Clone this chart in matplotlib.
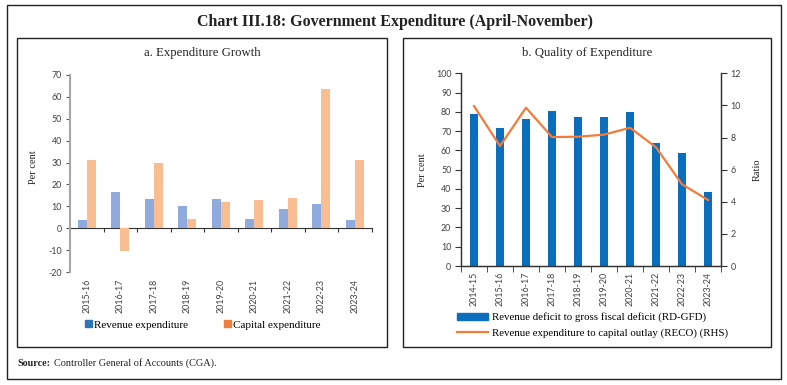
import matplotlib
matplotlib.use("Agg")
import matplotlib.pyplot as plt
import numpy as np
from matplotlib.patches import Rectangle, Patch
from matplotlib.lines import Line2D

plt.rcParams['axes.unicode_minus'] = False

# panel a: expenditure growth (per cent)
years_a = ['2015-16', '2016-17', '2017-18', '2018-19', '2019-20',
           '2020-21', '2021-22', '2022-23', '2023-24']
revenue_exp = [3.7, 16.4, 13.4, 10.2, 13.4, 4.2, 8.7, 11.0, 3.8]
capital_exp = [31.2, -10.3, 29.7, 4.2, 12.0, 12.9, 13.8, 63.6, 31.2]

# panel b: quality of expenditure
years_b = ['2014-15', '2015-16', '2016-17', '2017-18', '2018-19',
           '2019-20', '2020-21', '2021-22', '2022-23', '2023-24']
rd_gfd = [78.7, 71.8, 76.5, 80.4, 77.5, 77.5, 79.7, 64.0, 58.8, 38.4]
reco = [9.96, 7.47, 9.86, 8.03, 8.05, 8.18, 8.61, 7.39, 5.09, 4.11]

serif = 'Liberation Serif'
sans = 'Lato'
tick_col = '#404040'
tsize = 6.4
W, H = 787, 385


def fx(px):
    return px / W


def fy(py):
    return 1 - py / H


fig = plt.figure(figsize=(7.87, 3.85), dpi=100)

# frames
fig.add_artist(Rectangle((fx(7), fy(379)), fx(774), 374 / H, transform=fig.transFigure,
                         fill=False, lw=1.0, ec='#222222'))
fig.add_artist(Rectangle((fx(17), fy(347)), fx(370), 309 / H, transform=fig.transFigure,
                         fill=False, lw=1.0, ec='#222222'))
fig.add_artist(Rectangle((fx(403), fy(347)), fx(368), 309 / H, transform=fig.transFigure,
                         fill=False, lw=1.0, ec='#222222'))

fig.text(fx(395), fy(22), 'Chart III.18: Government Expenditure (April-November)',
         ha='center', va='center', family=serif, fontsize=11.5, fontweight='bold', color='#222222')
fig.text(fx(202), fy(53), 'a. Expenditure Growth', ha='center', va='center',
         family=serif, fontsize=9.2, color='#222222')
fig.text(fx(587), fy(53), 'b. Quality of Expenditure', ha='center', va='center',
         family=serif, fontsize=9.2, color='#222222')
fig.text(fx(17), fy(363), 'Source:', ha='left', va='center', family=serif,
         fontsize=7.2, fontweight='bold', color='#222222')
fig.text(fx(54), fy(363), 'Controller General of Accounts (CGA).', ha='left', va='center',
         family=serif, fontsize=7.4, color='#222222')

# ---- panel a ----
ax = fig.add_axes([fx(70), fy(272), fx(301.7), (272 - 75) / H])
x = np.arange(len(years_a))
w = 0.27
ax.bar(x - w / 2, revenue_exp, w, color='#8FAADC')
ax.bar(x + w / 2, capital_exp, w, color='#F8BE91')
ax.set_xlim(-0.5, len(years_a) - 0.5)
ax.set_ylim(-20, 70)
ax.set_yticks(range(-20, 71, 10))
for s in ['top', 'right', 'bottom']:
    ax.spines[s].set_visible(False)
ax.spines['left'].set_color('#A6A6A6')
ax.spines['left'].set_linewidth(1.5)
ax.set_xticks(x)
ax.set_xticklabels(years_a, rotation=90, family=sans, fontsize=tsize, color=tick_col)
ax.tick_params(axis='x', length=0, pad=5)
ax.tick_params(axis='y', length=3, pad=3, color='#555555', labelsize=tsize, labelcolor=tick_col)
for t in ax.get_yticklabels():
    t.set_family(sans)
zero = ax.secondary_xaxis(20 / 90)
zero.set_xticks(np.arange(0.5, len(years_a), 1))
zero.set_xticklabels([])
zero.tick_params(length=3, direction='out', color='#333333')
zero.spines['bottom'].set_color('#333333')
zero.spines['bottom'].set_linewidth(0.8)
ax.set_ylabel('Per cent', family=serif, fontsize=7.5, color='#222222')
ax.yaxis.set_label_coords((38 - 70) / 301.7, 0.53)

ax.legend([Patch(color='#2E75B6'), Patch(color='#F07F3C')],
          ['Revenue expenditure', 'Capital expenditure'],
          ncol=2, loc='center left', bbox_to_anchor=(fx(85), fy(325)),
          bbox_transform=fig.transFigure, frameon=False, borderpad=0, borderaxespad=0,
          handlelength=0.6, handleheight=0.6, handletextpad=0.25, columnspacing=3.2,
          prop={'family': serif, 'size': 8})

# ---- panel b ----
ax2 = fig.add_axes([fx(461), fy(266), fx(260), (266 - 73.3) / H])
xb = np.arange(len(years_b))
ax2.bar(xb, rd_gfd, 0.33, color='#0A6EBD')
ax2.set_xlim(-0.5, len(years_b) - 0.5)
ax2.set_ylim(0, 100)
ax2.set_yticks(range(0, 101, 10))
ax2.set_xticks(xb)
ax2.set_xticklabels(years_b, rotation=90, family=sans, fontsize=tsize, color=tick_col)
ax2.set_xticks(np.arange(-0.5, len(years_b), 1), minor=True)
ax2.tick_params(axis='x', which='major', length=0, pad=4)
ax2.tick_params(axis='x', which='minor', length=4, color='#333333')
ax2.tick_params(axis='y', length=4, pad=3, color='#333333', labelsize=tsize, labelcolor=tick_col)
for t in ax2.get_yticklabels():
    t.set_family(sans)

axr = ax2.twinx()
axr.plot(xb, reco, color='#F47B3A', lw=1.6)
axr.set_ylim(0, 12)
axr.set_yticks(range(0, 13, 2))
axr.tick_params(axis='y', length=4, pad=3, color='#333333', labelsize=tsize, labelcolor=tick_col)
for t in axr.get_yticklabels():
    t.set_family(sans)
for a in (ax2, axr):
    a.spines['top'].set_visible(False)
    for s in ['left', 'right', 'bottom']:
        a.spines[s].set_color('#333333')
        a.spines[s].set_linewidth(0.9)

ax2.set_ylabel('Per cent', family=serif, fontsize=7.5, color='#222222')
ax2.yaxis.set_label_coords((427 - 461) / 260, 0.5)
axr.set_ylabel('Ratio', family=serif, fontsize=7.5, color='#222222', rotation=90)
axr.yaxis.set_label_coords((753 - 461) / 260, 0.5)

axr.legend([Patch(color='#0A6EBD'), Line2D([], [], color='#F47B3A', lw=1.6)],
           ['Revenue deficit to gross fiscal deficit (RD-GFD)',
            'Revenue expenditure to capital outlay (RECO) (RHS)'],
           loc='center left', bbox_to_anchor=(fx(457), fy(325)),
           bbox_transform=fig.transFigure, frameon=False, borderpad=0, borderaxespad=0,
           handlelength=2.9, handleheight=0.6, handletextpad=0.3, labelspacing=0.55,
           prop={'family': serif, 'size': 7.8})

fig.savefig('out.png', dpi=100)
